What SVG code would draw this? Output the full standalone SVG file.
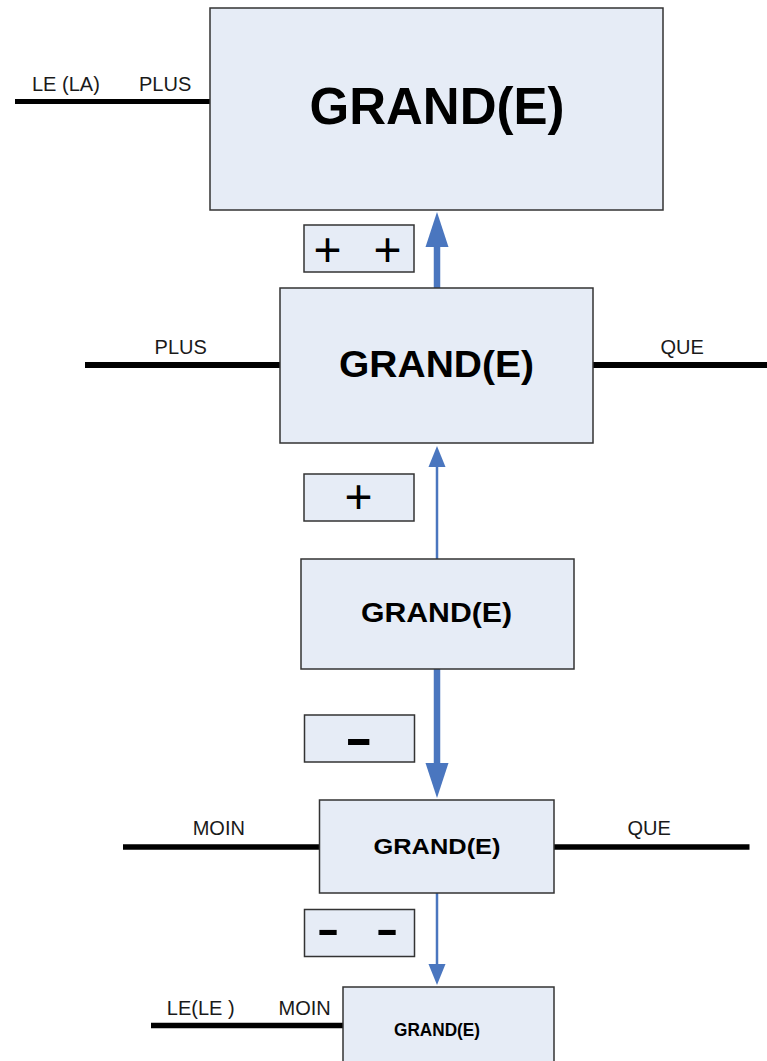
<svg xmlns="http://www.w3.org/2000/svg" width="767" height="1061" viewBox="0 0 767 1061">
<style>
.box{fill:#e6ecf6;stroke:#333;stroke-width:1.5}
.wire{stroke:#000;fill:none}
.lbl{font-family:"Liberation Sans",Arial,sans-serif;font-size:20px;fill:#1a1a1a}
.big{font-family:"Liberation Sans",Arial,sans-serif;font-weight:bold;fill:#000}
.sign{font-family:"Liberation Sans",Arial,sans-serif;fill:#000}
.arr{stroke:#4a76bf;fill:none}
</style>
<defs>
<marker id="headThick" markerUnits="userSpaceOnUse" markerWidth="35" markerHeight="23" refX="0" refY="11.5" orient="auto" overflow="visible">
<path d="M0,0 L35,11.5 L0,23 z" fill="#4a76bf"/>
</marker>
<marker id="headThin" markerUnits="userSpaceOnUse" markerWidth="21" markerHeight="17" refX="0" refY="8.5" orient="auto" overflow="visible">
<path d="M0,0 L21,8.5 L0,17 z" fill="#4a76bf"/>
</marker>
</defs>
<rect width="767" height="1061" fill="#fff"/>

<g id="connectors">
<line class="wire" x1="15" y1="101.5" x2="211" y2="101.5" stroke-width="5"/>
<line class="wire" x1="85" y1="365" x2="281" y2="365" stroke-width="6"/>
<line class="wire" x1="586" y1="365" x2="767" y2="365" stroke-width="6"/>
<line class="wire" x1="123" y1="847" x2="320" y2="847" stroke-width="5.7"/>
<line class="wire" x1="554" y1="847" x2="749.5" y2="847" stroke-width="5.7"/>
<line class="wire" x1="151" y1="1025.5" x2="347" y2="1025.5" stroke-width="5.7"/>
<line class="arr" x1="437" y1="289" x2="437" y2="247" stroke-width="6.5" marker-end="url(#headThick)"/>
<line class="arr" x1="437" y1="559" x2="437" y2="467" stroke-width="2.5" marker-end="url(#headThin)"/>
<line class="arr" x1="437" y1="668" x2="437" y2="763" stroke-width="6.5" marker-end="url(#headThick)"/>
<line class="arr" x1="437" y1="892" x2="437" y2="964" stroke-width="2.5" marker-end="url(#headThin)"/>
</g>

<g id="labels">
<text class="lbl" x="32" y="91">LE (LA)</text>
<text class="lbl" x="139" y="91">PLUS</text>
<text class="lbl" x="154.6" y="354">PLUS</text>
<text class="lbl" x="660.5" y="354">QUE</text>
<text class="lbl" x="192.7" y="835">MOIN</text>
<text class="lbl" x="627.4" y="835">QUE</text>
<text class="lbl" x="166.8" y="1015">LE(LE )</text>
<text class="lbl" x="278.6" y="1015">MOIN</text>
</g>

<g id="node1">
<rect class="box" x="210" y="8" width="453" height="202"/>
<text class="big" x="309.5" y="124" font-size="52" textLength="255" lengthAdjust="spacingAndGlyphs">GRAND(E)</text>
</g>
<g id="node2">
<rect class="box" x="280" y="288" width="313" height="155"/>
<text class="big" x="339" y="377" font-size="36" textLength="195" lengthAdjust="spacingAndGlyphs">GRAND(E)</text>
</g>
<g id="node3">
<rect class="box" x="301" y="559" width="273" height="110"/>
<text class="big" x="361" y="622" font-size="27" textLength="151" lengthAdjust="spacingAndGlyphs">GRAND(E)</text>
</g>
<g id="node4">
<rect class="box" x="319.5" y="800" width="234.5" height="93"/>
<text class="big" x="373.5" y="854" font-size="22" textLength="127" lengthAdjust="spacingAndGlyphs">GRAND(E)</text>
</g>
<g id="node5">
<rect class="box" x="343" y="987" width="211" height="90"/>
<text class="big" x="394" y="1036" font-size="19" textLength="86" lengthAdjust="spacingAndGlyphs">GRAND(E)</text>
</g>

<g id="signPP">
<rect class="box" x="304" y="225" width="110" height="47"/>
<text class="sign" x="327.5 357 387.5" y="265.5" font-size="48" text-anchor="middle">+ +</text>
</g>
<g id="signP">
<rect class="box" x="304" y="474" width="110" height="47"/>
<text class="sign" x="358.5" y="513" font-size="48" text-anchor="middle">+</text>
</g>
<g id="signM">
<rect class="box" x="304.5" y="715" width="110" height="47"/>
<text class="sign" font-weight="bold" transform="scale(1.68,1)" x="213.6" y="755" font-size="50" text-anchor="middle">-</text>
</g>
<g id="signMM">
<rect class="box" x="304.5" y="909.5" width="110" height="47"/>
<text class="sign" font-weight="bold" transform="scale(1.62,1)" x="202.5 220.5 238.9" y="944.5" font-size="42" text-anchor="middle">- -</text>
</g>
</svg>
